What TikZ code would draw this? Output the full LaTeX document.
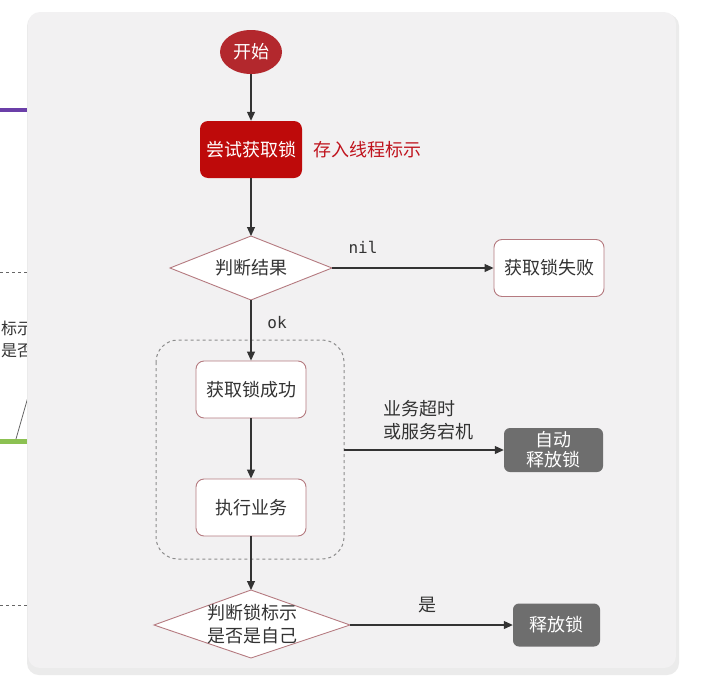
\documentclass[tikz,border=0pt]{standalone}
\usepackage{fontspec}
\setmainfont{Noto Sans CJK SC}
\setmonofont{DejaVu Sans Mono}
\usetikzlibrary{arrows.meta,shapes.geometric}
\definecolor{panelbg}{HTML}{F2F1F2}
\definecolor{startred}{HTML}{B3282D}
\definecolor{lockred}{HTML}{BE0A0A}
\definecolor{labred}{HTML}{C0141E}
\definecolor{edgepink}{HTML}{B57A80}
\definecolor{greybox}{HTML}{6E6E6E}
\definecolor{conn}{HTML}{333333}
\definecolor{purp}{HTML}{6B3FA8}
\definecolor{grn}{HTML}{8CC152}
\tikzset{
  txt/.style={font=\fontsize{18}{22}\selectfont},
  whitebox/.style={txt, draw=edgepink, line width=0.9pt, fill=white, rounded corners=8pt, minimum width=110pt, minimum height=57pt, text=black!80, inner sep=0pt},
  greyb/.style={txt, fill=greybox, rounded corners=6pt, text=white, inner sep=0pt, align=center},
  diam/.style={draw=edgepink, line width=0.9pt, fill=white},
  arr/.style={draw=conn, line width=1.1pt, -{Triangle[length=9pt,width=8pt]}},
  lbl/.style={txt, text=black!80},
  mono/.style={font=\ttfamily\fontsize{16}{19}\selectfont, text=black!80}
}
\begin{document}
\begin{tikzpicture}[x=1pt,y=-1pt]
\useasboundingbox (0,0) rectangle (704,696);
\fill[white] (0,0) rectangle (704,696);
% background fragments at left edge
\draw[purp, line width=4pt] (0,110) -- (30,110);
\draw[grn, line width=5pt] (0,441) -- (30,441);
\draw[black!60, line width=0.8pt] (16,439) -- (30,390);
\draw[black!60, dashed, line width=1pt] (0,272) -- (30,272);
\draw[black!60, dashed, line width=1pt] (0,605) -- (30,605);
\node[lbl, anchor=west, inner sep=0pt, align=left, font=\fontsize{16}{22}\selectfont] (frag) at (1,339) {标示\\是否};
% panel
\fill[black!20, rounded corners=12pt] (29,17) rectangle (677,673);
\fill[black!8, rounded corners=12pt] (27,14) rectangle (679,675);
\fill[panelbg, rounded corners=12pt] (28,12) rectangle (676,668);
% nodes
\node[ellipse, fill=startred, text=white, txt, minimum width=62pt, minimum height=44pt, inner sep=0pt] (start) at (251,52) {开始};
\node[txt, fill=lockred, text=white, rounded corners=8pt, minimum width=102pt, minimum height=57pt, inner sep=0pt] (try) at (251,149.5) {尝试获取锁};
\node[txt, text=labred, anchor=west, inner sep=0pt] (store) at (313,150) {存入线程标示};
% diamond 1
\coordinate (d1t) at (251,236);
\coordinate (d1r) at (332,268);
\coordinate (d1b) at (251,300);
\coordinate (d1l) at (170,268);
\draw[diam] (d1t) -- (d1r) -- (d1b) -- (d1l) -- cycle;
\node[lbl, inner sep=0pt] (judge) at (251,268) {判断结果};
\node[whitebox] (fail) at (549,268) {获取锁失败};
\node[mono, inner sep=0pt] (nil) at (363,247) {nil};
\node[mono, inner sep=0pt] (ok) at (277,323) {ok};
% group
\draw[black!45, dashed, line width=1pt, rounded corners=22pt] (156,340) rectangle (344,559);
\coordinate (grpr) at (344,450);
\node[whitebox] (succ) at (251,389.5) {获取锁成功};
\node[whitebox] (exec) at (251,507.5) {执行业务};
\node[greyb, minimum width=99pt, minimum height=44pt, font=\fontsize{18}{20}\selectfont] (auto) at (553.5,450) {自动\\释放锁};
\node[lbl, align=left, anchor=west, inner sep=0pt, font=\fontsize{18}{23}\selectfont] (timeout) at (383,420) {业务超时\\或服务宕机};
% diamond 2
\coordinate (d2t) at (251,590);
\coordinate (d2r) at (350,625);
\coordinate (d2b) at (251,658);
\coordinate (d2l) at (154,625);
\draw[diam] (d2t) -- (d2r) -- (d2b) -- (d2l) -- cycle;
\node[lbl, align=center, inner sep=0pt, font=\fontsize{18}{23}\selectfont] (judge2) at (252,624) {判断锁标示\\是否是自己};
\node[greyb, minimum width=87pt, minimum height=43pt] (rel) at (556.5,625) {释放锁};
\node[lbl, inner sep=0pt] (yes) at (427,605) {是};
% connectors
\draw[arr] (start) -- (try);
\draw[arr] (try) -- (d1t);
\draw[arr] (d1r) -- (fail.west);
\draw[arr] (d1b) -- (succ.north);
\draw[arr] (succ) -- (exec);
\draw[arr] (grpr) -- (auto.west);
\draw[arr] (exec.south) -- (d2t);
\draw[arr] (d2r) -- (rel.west);
\end{tikzpicture}
\end{document}
